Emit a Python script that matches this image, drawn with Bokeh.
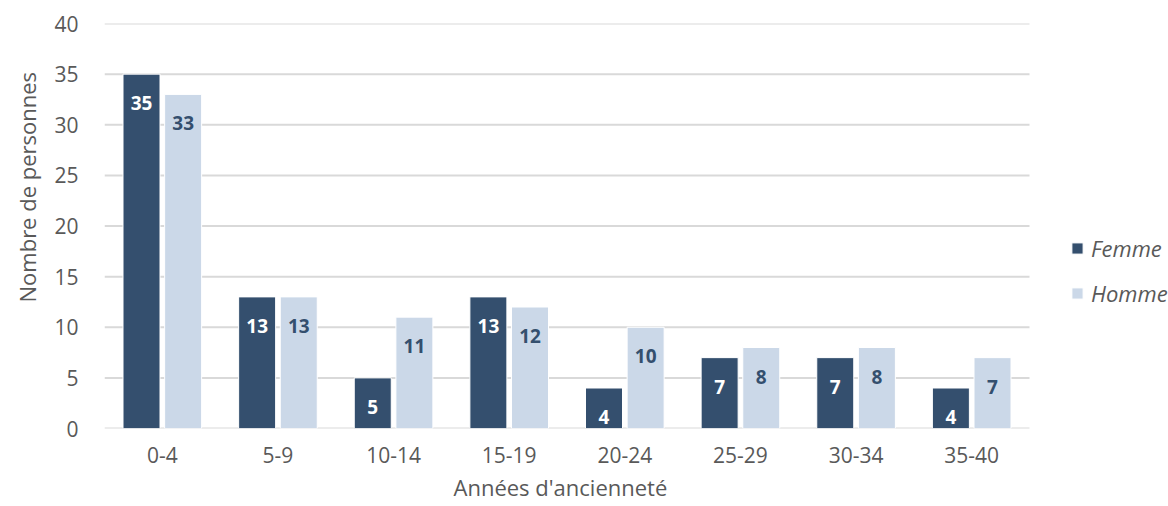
from bokeh.plotting import figure
from bokeh.models import ColumnDataSource, FixedTicker, Legend, LegendItem, Range1d, Title
from bokeh.core.properties import value
from bokeh.embed import file_html
from bokeh.resources import INLINE

categories = ["0-4", "5-9", "10-14", "15-19", "20-24", "25-29", "30-34", "35-40"]
femme = [35, 13, 5, 13, 4, 7, 7, 4]
homme = [33, 13, 11, 12, 10, 8, 8, 7]
y_ticks = [0, 5, 10, 15, 20, 25, 30, 35, 40]

FEMME_C = "#344f6e"
HOMME_C = "#cbd8e8"
GRID_C = "#d9d9d9"
TEXT_C = "#595959"
FONT = "Open Sans"

idx = list(range(len(categories)))
DODGE = 0.18
src = ColumnDataSource(dict(
    xf=[i - DODGE for i in idx], xh=[i + DODGE for i in idx],
    femme=femme, homme=homme,
    femme_lbl=[str(v) for v in femme], homme_lbl=[str(v) for v in homme],
))
grid_src = ColumnDataSource(dict(y=y_ticks, x0=[-0.5] * len(y_ticks),
                                 x1=[len(categories) - 0.5] * len(y_ticks)))

LEFT = 104
W, H = 1168, 506
cat_px = 925 / len(categories)
x_end = -0.5 + (W - LEFT) / cat_px

p = figure(x_range=Range1d(-0.5, x_end), y_range=Range1d(0, 40),
           width=W, height=H, output_backend="svg", toolbar_location=None,
           min_border_left=LEFT, min_border_right=0, min_border_top=23, min_border_bottom=78)
p.outline_line_color = None
p.grid.grid_line_color = None

p.segment(x0="x0", x1="x1", y0="y", y1="y", source=grid_src,
          line_color=GRID_C, line_width=2, level="underlay")

rf = p.vbar(x="xf", top="femme", width=0.32, source=src,
            fill_color=FEMME_C, line_color="white", line_width=1)
rh = p.vbar(x="xh", top="homme", width=0.32, source=src,
            fill_color=HOMME_C, line_color="white", line_width=1)

p.text(x="xf", y="femme", text="femme_lbl", source=src,
       text_align="center", text_baseline="middle", y_offset=29,
       text_color="white", text_font=value(FONT), text_font_style="bold", text_font_size="19px")
p.text(x="xh", y="homme", text="homme_lbl", source=src,
       text_align="center", text_baseline="middle", y_offset=29,
       text_color=FEMME_C, text_font=value(FONT), text_font_style="bold", text_font_size="19px")

p.yaxis.ticker = FixedTicker(ticks=y_ticks)
p.xaxis.ticker = FixedTicker(ticks=idx)
p.xaxis.major_label_overrides = {i: c for i, c in zip(idx, categories)}

for ax in (p.xaxis[0], p.yaxis[0]):
    ax.axis_line_color = None
    ax.major_tick_line_color = None
    ax.minor_tick_line_color = None
    ax.major_label_text_font = FONT
    ax.major_label_text_font_size = "21px"
    ax.major_label_text_color = TEXT_C

p.yaxis.major_label_standoff = 20
p.xaxis.major_label_standoff = 12

# axis titles as side titles so that they can be placed like the reference
x_title = Title(text="Années d'ancienneté", align="left", offset=349, standoff=8,
                text_font=FONT, text_font_size="22px", text_font_style="normal",
                text_color=TEXT_C)
y_title = Title(text="Nombre de personnes", align="left", offset=126, standoff=19,
                text_font=FONT, text_font_size="22px", text_font_style="normal",
                text_color=TEXT_C)
p.add_layout(x_title, "below")
p.add_layout(y_title, "left")

legend = Legend(items=[LegendItem(label="Femme", renderers=[rf]),
                       LegendItem(label="Homme", renderers=[rh])],
                location=(966, 120))
legend.background_fill_alpha = 0
legend.border_line_color = None
legend.padding = 0
legend.margin = 0
legend.label_text_font = FONT
legend.label_text_font_size = "22px"
legend.label_text_font_style = "italic"
legend.label_text_color = TEXT_C
legend.glyph_width = 14
legend.glyph_height = 14
legend.spacing = 15
legend.label_standoff = 7
p.add_layout(legend, "center")

open("out.html", "w").write(file_html(p, INLINE))
